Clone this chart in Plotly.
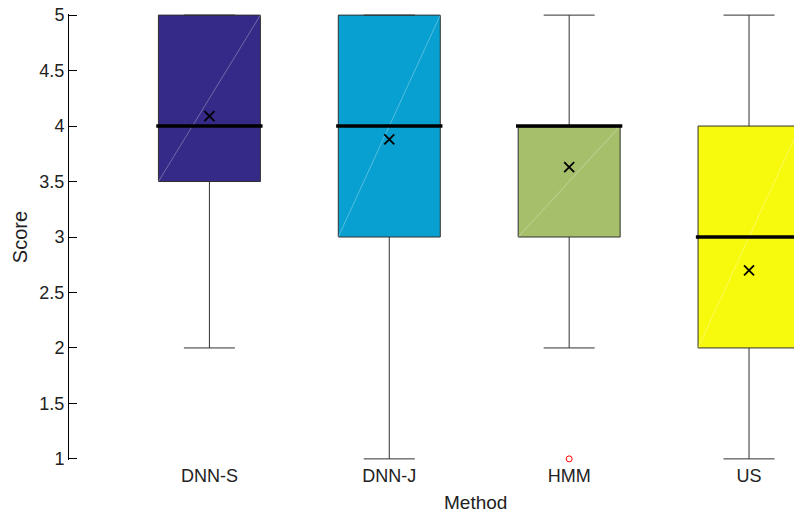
import plotly.graph_objects as go

# Listening-test scores per synthesis method
methods = ["DNN-S", "DNN-J", "HMM", "US"]
q1 = [3.5, 3.0, 3.0, 2.0]
median = [4.0, 4.0, 4.0, 3.0]
q3 = [5.0, 5.0, 4.0, 4.0]
lower_whisker = [2.0, 1.0, 2.0, 1.0]
upper_whisker = [5.0, 5.0, 5.0, 5.0]
mean = [4.09, 3.88, 3.63, 2.70]
outlier_method = ["HMM"]
outlier_value = [1.0]
y_ticks = [1, 1.5, 2, 2.5, 3, 3.5, 4, 4.5, 5]

colors = ["#352a87", "#08a0d0", "#a6bf6b", "#f8fa0e"]

pos = [i + 1 for i in range(len(methods))]
box_w = 0.567
half = box_w / 2

fig = go.Figure()

for i, m in enumerate(methods):
    fig.add_trace(go.Box(
        x=[pos[i]],
        q1=[q1[i]], median=[median[i]], q3=[q3[i]],
        lowerfence=[lower_whisker[i]], upperfence=[upper_whisker[i]],
        width=box_w, whiskerwidth=0.5,
        fillcolor=colors[i],
        line=dict(color="#303030", width=1),
        showlegend=False, hoverinfo="skip",
    ))
    # faint diagonal across the filled box
    fig.add_trace(go.Scatter(
        x=[pos[i] - half, pos[i] + half], y=[q1[i], q3[i]],
        mode="lines", line=dict(color="rgba(255,255,255,0.3)", width=1),
        showlegend=False, hoverinfo="skip",
    ))
    # heavy median bar
    fig.add_trace(go.Scatter(
        x=[pos[i] - half - 0.012, pos[i] + half + 0.012], y=[median[i], median[i]],
        mode="lines", line=dict(color="black", width=3.5),
        showlegend=False, hoverinfo="skip",
    ))

# mean markers
fig.add_trace(go.Scatter(
    x=pos, y=mean, mode="markers",
    marker=dict(symbol="x-thin", size=10, line=dict(color="black", width=1.8)),
    showlegend=False, hoverinfo="skip",
))

# outliers
fig.add_trace(go.Scatter(
    x=[pos[methods.index(m)] for m in outlier_method], y=outlier_value,
    mode="markers",
    marker=dict(symbol="circle-open", size=6, color="red", line=dict(width=1)),
    showlegend=False, hoverinfo="skip", cliponaxis=False,
))

font = "Liberation Sans, Arial, Helvetica, sans-serif"

fig.update_layout(
    width=794, height=513,
    margin=dict(l=69, r=0, t=14, b=53),
    plot_bgcolor="white", paper_bgcolor="white",
    font=dict(family=font, size=18, color="#222"),
    xaxis=dict(
        range=[0.2194, 4.25],
        tickvals=pos, ticktext=methods,
        showline=False, showgrid=False, zeroline=False, ticks="",
        tickfont=dict(size=18), ticklabelstandoff=3,
    ),
    yaxis=dict(
        range=[0.99, 5.01],
        tickvals=y_ticks, ticktext=[f"{v:g}" for v in y_ticks],
        showline=True, linecolor="black", linewidth=1,
        ticks="inside", ticklen=8, tickcolor="black", tickwidth=1,
        showgrid=False, zeroline=False,
        tickfont=dict(size=18),
        title=dict(text="Score", font=dict(size=20), standoff=6),
    ),
    annotations=[dict(
        text="Method", xref="paper", yref="paper",
        x=0.561, y=0, yshift=-42, xanchor="center", yanchor="middle",
        showarrow=False, font=dict(size=19, color="#222"),
    )],
)

fig.write_html("out.html")
